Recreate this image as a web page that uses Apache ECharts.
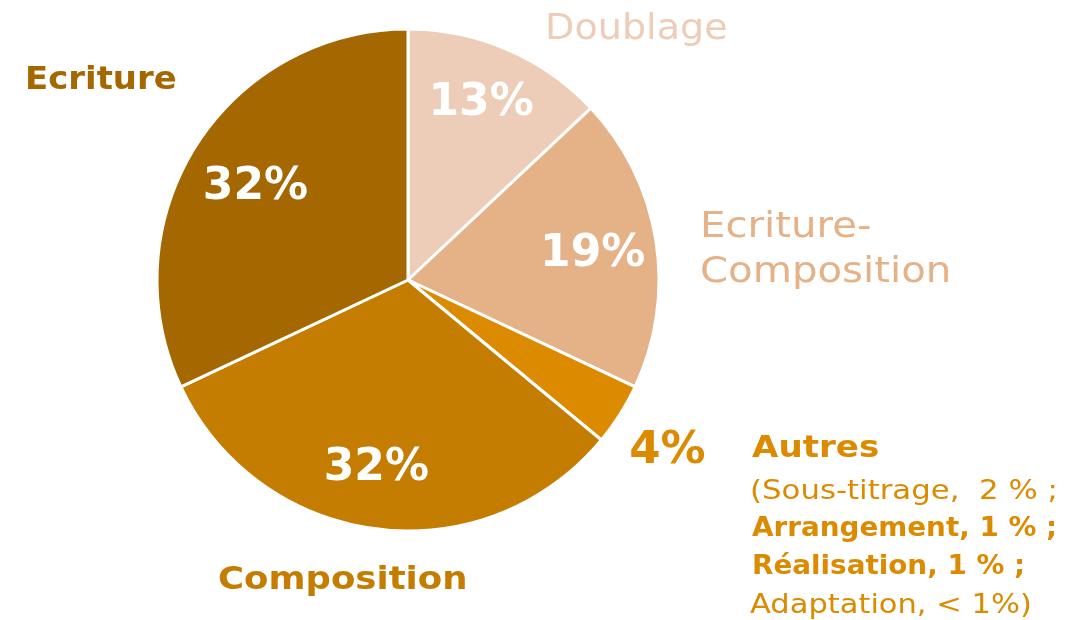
<!DOCTYPE html>
<html><head><meta charset="utf-8">
<script src="https://cdn.jsdelivr.net/npm/echarts@6/dist/echarts.min.js"></script>
<style>html,body{margin:0;padding:0;background:#fff}#c{width:1084px;height:620px}</style>
</head><body><div id="c"></div>
<script>
const categories = ['Doublage', 'Ecriture-Composition', 'Autres', 'Composition', 'Ecriture'];
const values = [13, 19, 4, 32, 32];
const colors = ['#EDCDB7', '#E5B187', '#DC8A00', '#C47D00', '#A56700'];
const autresDetail = ['(Sous-titrage,  2 % ;', 'Arrangement, 1 % ;', 'Réalisation, 1 % ;', 'Adaptation, < 1%)'];

const FONT = "'DejaVu Sans', sans-serif";
const center = [408, 280];
// small hand nudges of the percentage labels, as placed in the original
const labelNudge = [[-2, -3], [-2, 4], [-4, 4], [-8, 1], [7, 9]];
const data = categories.map((c, i) => ({ name: c, value: values[i], itemStyle: { color: colors[i] } }));
const overlay = (show) => categories.map((c, i) => ({
  name: c, value: values[i], itemStyle: { color: 'transparent' },
  label: { show: show(i) }
}));
const nudge = p => ({ dx: labelNudge[p.dataIndex][0], dy: labelNudge[p.dataIndex][1] });

function txt(x, y, text, fill, font, sx) {
  return { type: 'text', x: x, y: y, scaleX: sx, style: { text: text, fill: fill, font: font, textVerticalAlign: 'middle' } };
}

const chart = echarts.init(document.getElementById('c'), null, { renderer: 'canvas' });
chart.setOption({
  animation: false,
  series: [
    {
      type: 'pie', center: center, radius: 251, startAngle: 90, clockwise: true, silent: true,
      itemStyle: { borderColor: '#fff', borderWidth: 3 },
      label: { show: false }, labelLine: { show: false },
      data: data
    },
    {
      type: 'pie', center: center, radius: 372, startAngle: 90, clockwise: true, silent: true,
      label: { show: true, position: 'inside', formatter: '{c}%', color: '#fff', fontSize: 44, fontWeight: 'bold', fontFamily: FONT },
      labelLine: { show: false },
      labelLayout: nudge,
      data: overlay(i => categories[i] !== 'Autres')
    },
    {
      type: 'pie', center: center, radius: 618, startAngle: 90, clockwise: true, silent: true,
      label: { show: true, position: 'inside', formatter: '{c}%', color: '#DC8A00', fontSize: 45, fontWeight: 'bold', fontFamily: FONT },
      labelLine: { show: false },
      labelLayout: nudge,
      data: overlay(i => categories[i] === 'Autres')
    }
  ],
  graphic: [
    txt(545, 30, 'Doublage', '#EDCDB7', `normal 35px ${FONT}`, 1.09),
    txt(25, 81, 'Ecriture', '#A56700', `bold 32px ${FONT}`, 1.06),
    txt(700, 228, 'Ecriture-', '#E5B187', `normal 35px ${FONT}`, 1.15),
    txt(700, 273, 'Composition', '#E5B187', `normal 35px ${FONT}`, 1.15),
    txt(218, 581, 'Composition', '#C47D00', `bold 32px ${FONT}`, 1.11),
    txt(752, 449, 'Autres', '#DC8A00', `bold 31px ${FONT}`, 1.10),
    txt(750, 492, autresDetail[0], '#DC8A00', `normal 27px ${FONT}`, 1.14),
    txt(752, 529, autresDetail[1], '#DC8A00', `bold 27px ${FONT}`, 1.03),
    txt(752, 567, autresDetail[2], '#DC8A00', `bold 27px ${FONT}`, 1.03),
    txt(750, 606, autresDetail[3], '#DC8A00', `normal 27px ${FONT}`, 1.13)
  ]
});
</script></body></html>
